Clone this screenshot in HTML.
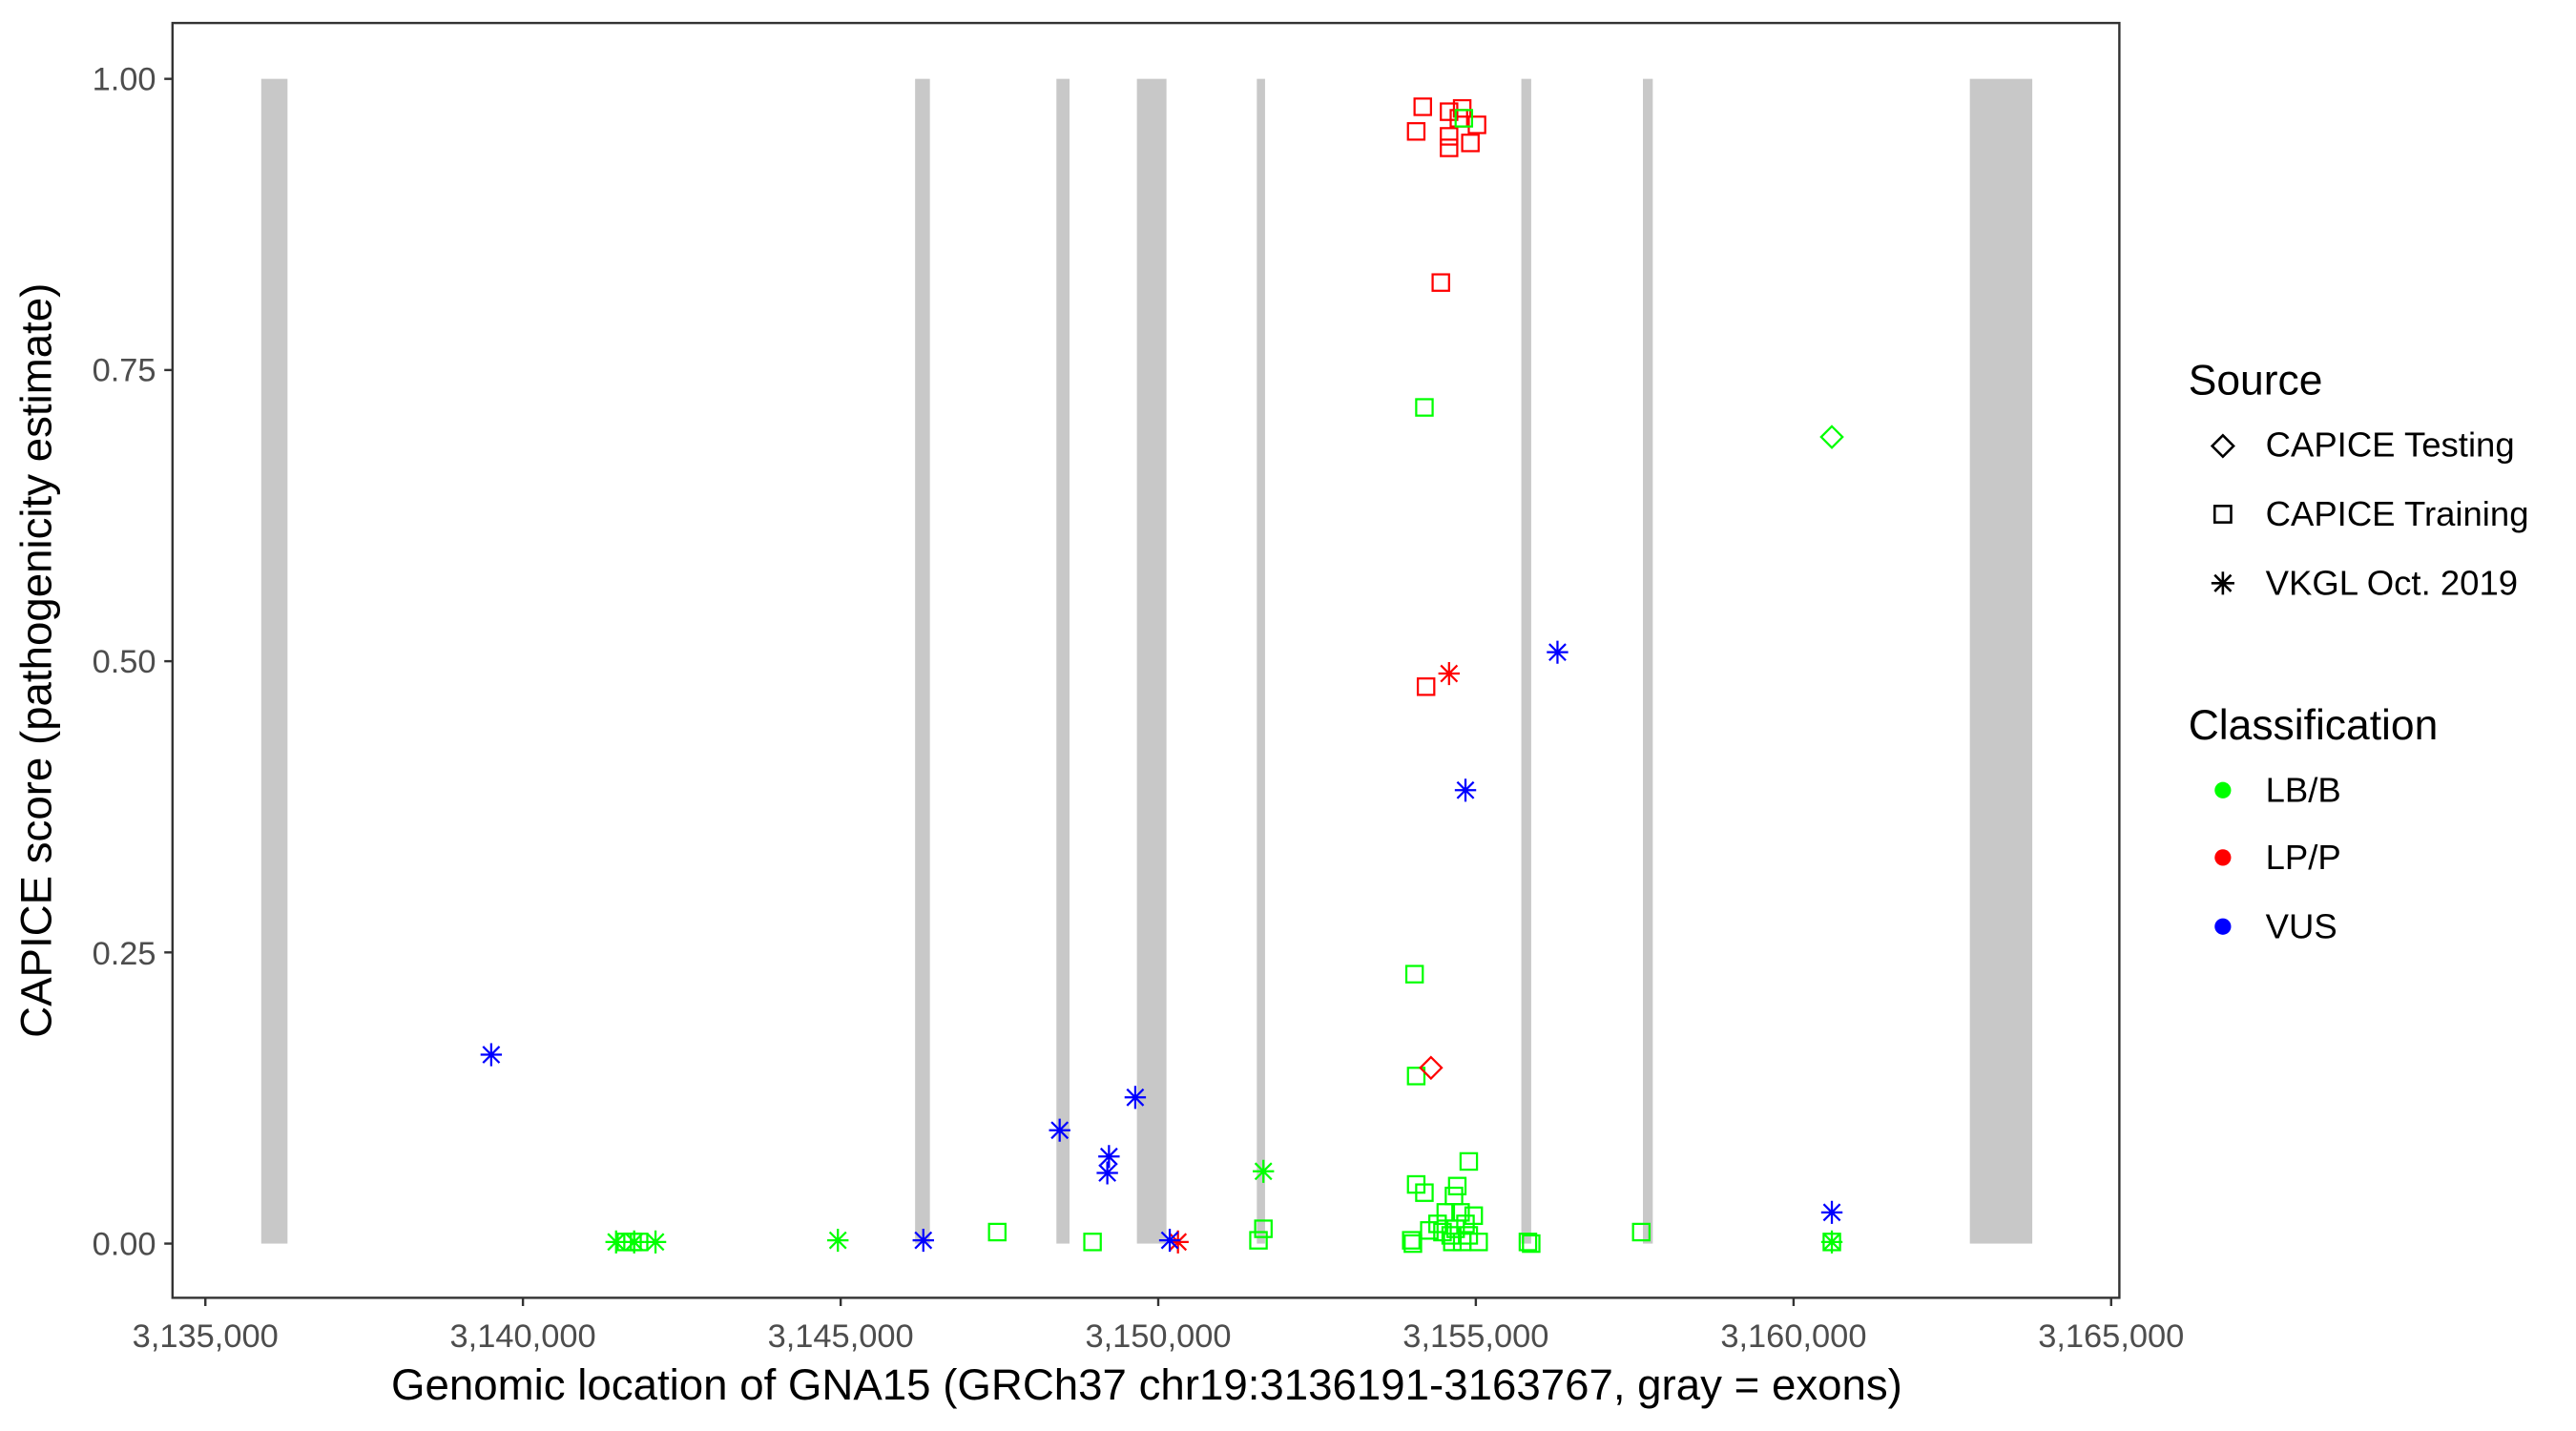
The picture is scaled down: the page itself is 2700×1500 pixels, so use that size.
<!DOCTYPE html>
<html><head><meta charset="utf-8"><style>
html,body{margin:0;padding:0;background:#fff;}
svg{display:block;font-family:"Liberation Sans",Arial,sans-serif;}
</style></head><body>
<svg width="2700" height="1500" viewBox="0 0 2700 1500" xmlns="http://www.w3.org/2000/svg">
<defs>
<g id="sq"><rect x="-5" y="-5" width="10" height="10" fill="none" stroke-width="1.3"/></g>
<g id="di"><path d="M0,-6.5 L6.5,0 L0,6.5 L-6.5,0 Z" fill="none" stroke-width="1.3"/></g>
<g id="st"><path d="M0,-7 V7 M-6.5,0 H6.5 M-5,-5 L5,5 M-5,5 L5,-5" fill="none" stroke-width="1.3"/></g>
</defs>
<rect width="2700" height="1500" fill="#fff"/>
<g transform="scale(1.722)">
<g fill="#c8c8c8">
<rect x="159" y="48" width="16" height="709"/>
<rect x="557" y="48" width="9" height="709"/>
<rect x="643" y="48" width="8" height="709"/>
<rect x="692" y="48" width="18" height="709"/>
<rect x="765" y="48" width="5" height="709"/>
<rect x="926" y="48" width="6" height="709"/>
<rect x="1000" y="48" width="6" height="709"/>
<rect x="1199" y="48" width="38" height="709"/>
</g>
<g stroke="#00ff00">
<use href="#sq" x="861" y="593"/><use href="#sq" x="862" y="655"/><use href="#sq" x="894" y="707"/>
<use href="#sq" x="862" y="721"/><use href="#sq" x="867" y="726"/><use href="#sq" x="887" y="722"/>
<use href="#sq" x="885" y="728"/><use href="#sq" x="880" y="738"/><use href="#sq" x="889" y="738"/>
<use href="#sq" x="897" y="740"/><use href="#sq" x="870" y="749"/><use href="#sq" x="875" y="745"/>
<use href="#sq" x="892" y="745"/><use href="#sq" x="878" y="750"/><use href="#sq" x="886" y="748"/>
<use href="#sq" x="883" y="752"/><use href="#sq" x="894" y="752"/>
<use href="#sq" x="607" y="750"/><use href="#sq" x="769" y="748"/><use href="#sq" x="999" y="750"/>
<use href="#sq" x="665" y="756"/><use href="#sq" x="766" y="755"/><use href="#sq" x="859" y="755"/>
<use href="#sq" x="860" y="757"/><use href="#sq" x="884" y="756"/><use href="#sq" x="890" y="756"/>
<use href="#sq" x="900" y="756"/><use href="#sq" x="930" y="756"/><use href="#sq" x="932" y="757"/>
<use href="#sq" x="1115" y="756"/><use href="#sq" x="381" y="756"/><use href="#sq" x="385" y="756"/>
<use href="#sq" x="389" y="756"/>
<use href="#sq" x="867" y="248"/>
<use href="#di" x="1115" y="266"/>
<use href="#st" x="375" y="756"/><use href="#st" x="386" y="756"/><use href="#st" x="399" y="756"/>
<use href="#st" x="510" y="755"/><use href="#st" x="769" y="713"/><use href="#st" x="1115" y="756"/>
</g>
<g stroke="#ff0000">
<use href="#sq" x="866" y="65"/><use href="#sq" x="862" y="80"/><use href="#sq" x="882" y="68"/>
<use href="#sq" x="890" y="66"/><use href="#sq" x="888" y="72"/><use href="#sq" x="899" y="76"/>
<use href="#sq" x="882" y="83"/><use href="#sq" x="882" y="90"/><use href="#sq" x="895" y="87"/>
<use href="#sq" x="877" y="172"/><use href="#sq" x="868" y="418"/>
<use href="#di" x="871" y="650"/>
<use href="#st" x="882" y="410"/><use href="#st" x="717" y="756"/>
</g>
<g stroke="#00ff00"><use href="#sq" x="891" y="72"/></g>
<g stroke="#0000ff">
<use href="#st" x="948" y="397"/><use href="#st" x="892" y="481"/><use href="#st" x="299" y="642"/>
<use href="#st" x="691" y="668"/><use href="#st" x="645" y="688"/><use href="#st" x="675" y="704"/>
<use href="#st" x="674" y="714"/><use href="#st" x="562" y="755"/><use href="#st" x="712" y="755"/>
<use href="#st" x="1115" y="738"/>
</g>
<rect x="105" y="14" width="1185" height="776" fill="none" stroke="#333" stroke-width="1.4"/>
<g stroke="#333" stroke-width="1.4">
<line x1="100" y1="48" x2="105" y2="48"/><line x1="100" y1="225.25" x2="105" y2="225.25"/>
<line x1="100" y1="402.5" x2="105" y2="402.5"/><line x1="100" y1="579.75" x2="105" y2="579.75"/>
<line x1="100" y1="757" x2="105" y2="757"/>
<line x1="125" y1="790" x2="125" y2="795"/><line x1="318.3" y1="790" x2="318.3" y2="795"/>
<line x1="511.7" y1="790" x2="511.7" y2="795"/><line x1="705" y1="790" x2="705" y2="795"/>
<line x1="898.3" y1="790" x2="898.3" y2="795"/><line x1="1091.7" y1="790" x2="1091.7" y2="795"/>
<line x1="1285" y1="790" x2="1285" y2="795"/>
</g>
<g fill="#4d4d4d" font-size="20" text-anchor="end">
<text x="95" y="55">1.00</text><text x="95" y="232">0.75</text><text x="95" y="409.5">0.50</text>
<text x="95" y="587">0.25</text><text x="95" y="764">0.00</text>
</g>
<g fill="#4d4d4d" font-size="20" text-anchor="middle">
<text x="125" y="820">3,135,000</text><text x="318.3" y="820">3,140,000</text><text x="511.7" y="820">3,145,000</text>
<text x="705" y="820">3,150,000</text><text x="898.3" y="820">3,155,000</text><text x="1091.7" y="820">3,160,000</text>
<text x="1285" y="820">3,165,000</text>
</g>
<text x="698" y="852" font-size="26.5" text-anchor="middle" fill="#000">Genomic location of GNA15 (GRCh37 chr19:3136191-3163767, gray = exons)</text>
<text transform="translate(31,402) rotate(-90)" font-size="26.5" text-anchor="middle" fill="#000">CAPICE score (pathogenicity estimate)</text>
<g fill="#000">
<text x="1332" y="240" font-size="25.8">Source</text>
<text x="1379" y="278" font-size="21.2">CAPICE Testing</text>
<text x="1379" y="320" font-size="21.2">CAPICE Training</text>
<text x="1379" y="362" font-size="21.2">VKGL Oct. 2019</text>
<text x="1332" y="450" font-size="25.8">Classification</text>
<text x="1379" y="488" font-size="21.2">LB/B</text>
<text x="1379" y="529" font-size="21.2">LP/P</text>
<text x="1379" y="571" font-size="21.2">VUS</text>
</g>
<g stroke="#000" fill="none" stroke-width="1.5">
<path d="M1353,265 L1359.5,271.5 L1353,278 L1346.5,271.5 Z"/>
<rect x="1348" y="308" width="10" height="10"/>
<path d="M1353,348 V362 M1346,355 H1360 M1348,350 L1358,360 M1348,360 L1358,350"/>
</g>
<circle cx="1353" cy="481" r="5" fill="#00ff00"/>
<circle cx="1353" cy="522" r="5" fill="#ff0000"/>
<circle cx="1353" cy="564" r="5" fill="#0000ff"/>
</g>
</svg>
</body></html>
